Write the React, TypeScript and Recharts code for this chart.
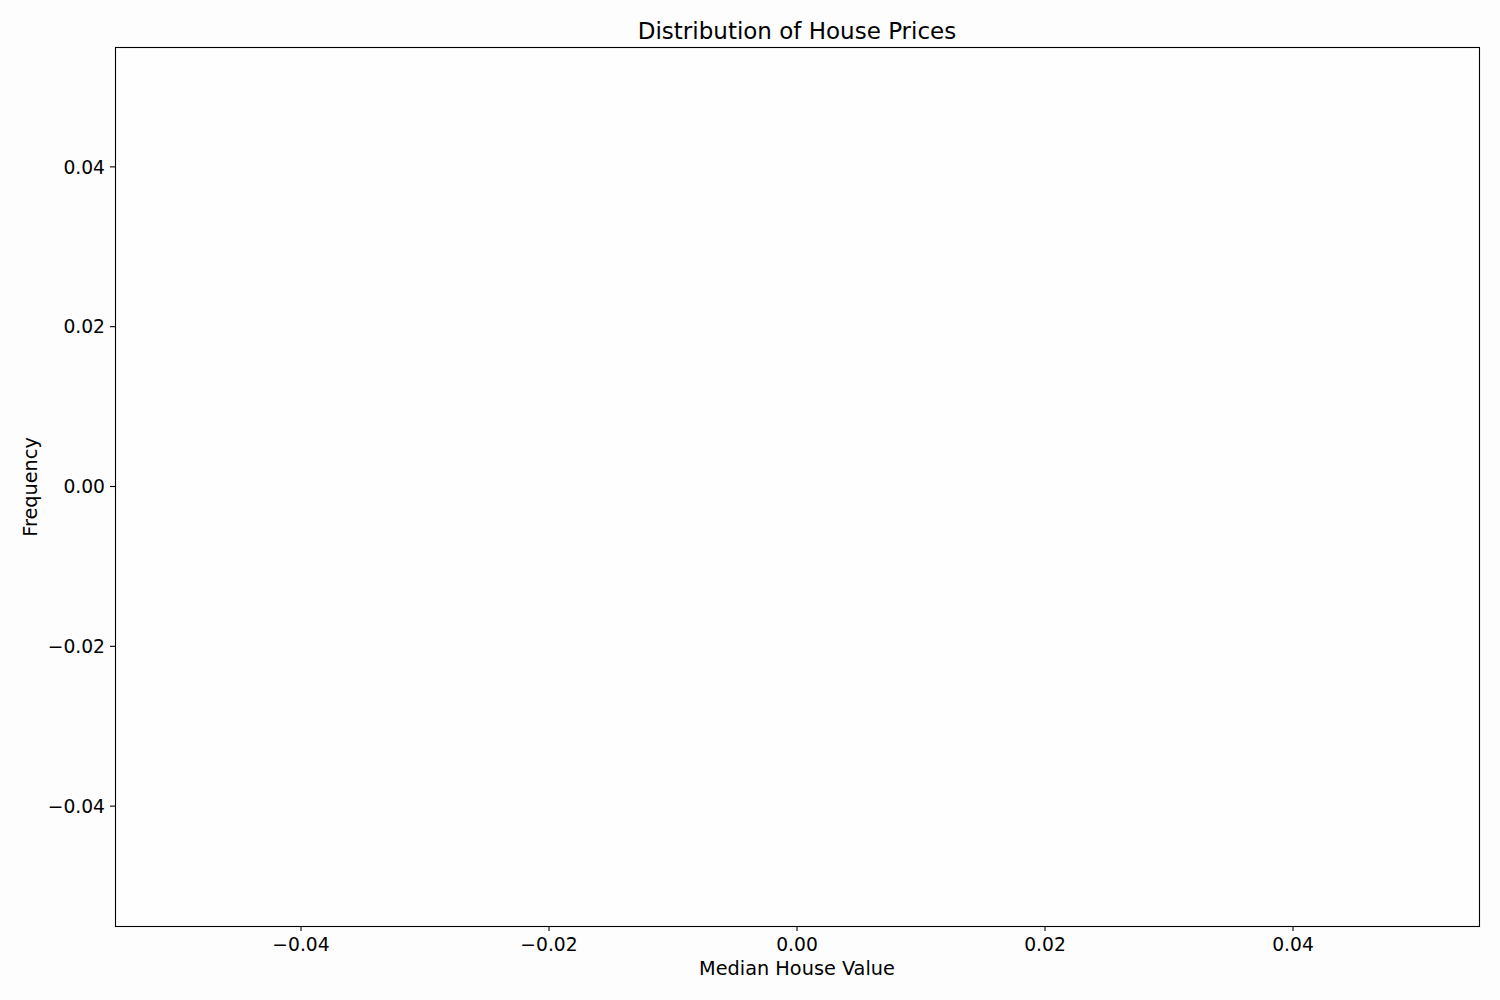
import React from "react";
import { ScatterChart, Scatter, XAxis, YAxis, Customized } from "recharts";

// The source histogram has no bins (empty data), so the axes show matplotlib's default range.
const houseValues: number[] = [];
const frequencies: number[] = [];
const xTicks = [-0.04, -0.02, 0.0, 0.02, 0.04];
const yTicks = [-0.04, -0.02, 0.0, 0.02, 0.04];
const xDomain: [number, number] = [-0.055, 0.055];
const yDomain: [number, number] = [-0.055, 0.055];

const title = "Distribution of House Prices";
const xLabel = "Median House Value";
const yLabel = "Frequency";

const data = houseValues.map((v, i) => ({ x: v, y: frequencies[i] }));

const FONT = "'DejaVu Sans', sans-serif";

const fmt = (v: number) => {
  const s = Math.abs(v).toFixed(2);
  return v < 0 ? "\u2212" + s : s;
};

const XTick = (props: any) => {
  const { x, y, payload } = props;
  return (
    <text x={x} y={y} dy="0.71em" textAnchor="middle" fontSize={18.7} fontFamily={FONT} fill="#000">
      {fmt(payload.value)}
    </text>
  );
};

const YTick = (props: any) => {
  const { x, y, payload } = props;
  return (
    <text x={x} y={y} dy="0.355em" textAnchor="end" fontSize={18.7} fontFamily={FONT} fill="#000">
      {fmt(payload.value)}
    </text>
  );
};

const Overlay = () => (
  <g>
    <rect x={115.5} y={47.5} width={1364} height={879} fill="none" stroke="#000" strokeWidth={1.1} />
    <text x={797} y={39} textAnchor="middle" fontSize={23} fontFamily={FONT} fill="#000">
      {title}
    </text>
    <text x={797} y={975} textAnchor="middle" fontSize={19.3} fontFamily={FONT} fill="#000">
      {xLabel}
    </text>
    <text
      x={37}
      y={487}
      textAnchor="middle"
      fontSize={19.3}
      fontFamily={FONT}
      fill="#000"
      transform="rotate(-90 37 487)"
    >
      {yLabel}
    </text>
  </g>
);

export default function App() {
  return (
    <div style={{ position: "fixed", left: 0, top: 0, width: 1500, height: 1000, background: "#fdfdfd" }}>
      <ScatterChart
        width={1500}
        height={1000}
        margin={{ top: 47, right: 21, bottom: 0, left: 0 }}
      >
        <rect x={115} y={47} width={1364} height={879} fill="#fefefe" />
        <XAxis
          type="number"
          dataKey="x"
          domain={xDomain}
          ticks={xTicks}
          allowDataOverflow
          height={74}
          tickSize={5}
          tickMargin={7}
          tick={<XTick />}
          axisLine={false}
          tickLine={{ stroke: "#000", strokeWidth: 1.1 }}
          interval={0}
        />
        <YAxis
          type="number"
          dataKey="y"
          domain={yDomain}
          ticks={yTicks}
          allowDataOverflow
          width={115}
          tickSize={5}
          tickMargin={5}
          tick={<YTick />}
          axisLine={false}
          tickLine={{ stroke: "#000", strokeWidth: 1.1 }}
          interval={0}
        />
        <Scatter data={data} fill="#1f77b4" isAnimationActive={false} />
        <Customized component={Overlay} />
      </ScatterChart>
    </div>
  );
}
